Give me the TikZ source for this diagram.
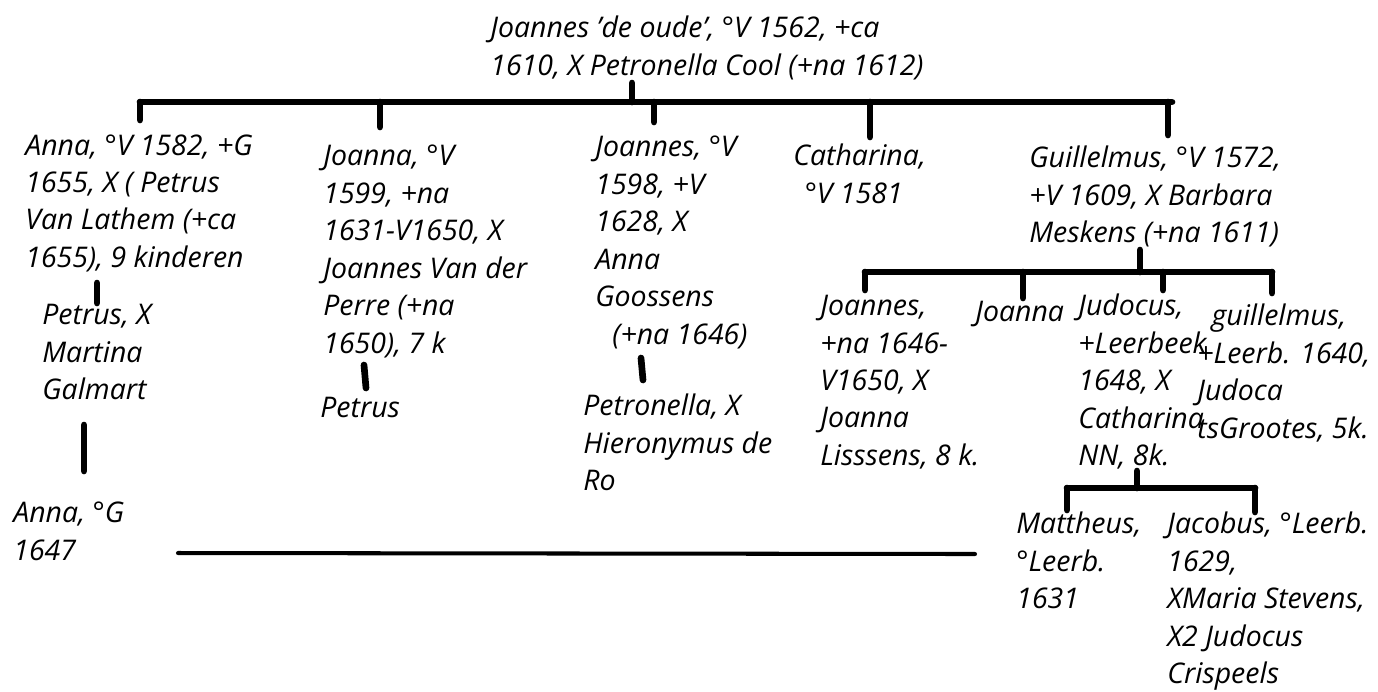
\documentclass[tikz,border=0pt]{standalone}
\usepackage{fontspec}
\setmainfont{Open Sans}
\tikzset{
  person/.style={anchor=north west, inner sep=0pt, align=left,
    font=\fontsize{16.2}{21.3}\selectfont\itshape},
  famline/.style={line width=3.8pt, line cap=round},
  thinline/.style={line width=2.3pt, line cap=round}
}
\begin{document}
\begin{tikzpicture}[x=0.02cm, y=-0.02cm]
\useasboundingbox (0,0) rectangle (1378,691);

% top couple
\node[person] (root) at (490,16) {Joannes 'de oude', °V 1562, +ca\\1610, X Petronella Cool (+na 1612)};

% children
\node[person] (anna) at (25,134) {Anna, °V 1582, +G\\1655, X ( Petrus\\Van Lathem (+ca\\1655), 9 kinderen};
\node[person] (joanna) at (323,145) {Joanna, °V\\1599, +na\\1631-V1650, X\\Joannes Van der\\Perre (+na\\1650), 7 k};
\node[person] (joannes) at (595,136) {Joannes, °V\\1598, +V\\1628, X\\Anna\\Goossens\\\hspace*{0.6em}(+na 1646)};
\node[person] (catharina) at (793,144) {Catharina,\\\hspace*{0.4em}°V 1581};
\node[person] (guillelmus) at (1029,146) {Guillelmus, °V 1572,\\+V 1609, X Barbara\\Meskens (+na 1611)};

% grandchildren
\node[person] (petrusA) at (42,304) {Petrus, X\\Martina\\Galmart};
\node[person] (annaG) at (13,502) {Anna, °G\\1647};
\node[person] (petrusJ) at (320,397) {Petrus};
\node[person] (petronella) at (583,394) {Petronella, X\\Hieronymus de\\Ro};
\node[person] (joannesG) at (820,295) {Joannes,\\+na 1646-\\V1650, X\\Joanna\\Lisssens, 8 k.};
\node[person] (joannaG) at (975,301) {Joanna};
\node[person] (judocus) at (1078,294) {Judocus,\\+Leerbeek\\1648, X\\Catharina\\NN, 8k.};
\node[person] (guillelmusG) at (1197,304) {\hspace*{0.5em}guillelmus,\\+Leerb. 1640,\\Judoca\\tsGrootes, 5k.};
\node[person] (mattheus) at (1016,512) {Mattheus,\\°Leerb.\\1631};
\node[person] (jacobus) at (1167,512) {Jacobus, °Leerb.\\1629,\\XMaria Stevens,\\X2 Judocus\\Crispeels};

% bars and stubs
\coordinate (rootstub) at (632,83);
\coordinate (rootbar) at (632,102);
\coordinate (barL) at (140,102);
\coordinate (barR) at (1172,102);
\draw[famline] (rootstub) -- (rootbar);
\draw[famline] (barL) -- (barR);
\foreach \x/\y in {140/120, 380/127, 654/122, 870/137, 1168/135}
  \draw[famline] (\x,102) -- (\x,\y);

\coordinate (gstub) at (1140,250);
\coordinate (gbar) at (1140,272);
\draw[famline] (gstub) -- (gbar);
\draw[famline] (865,272) -- (1272,272);
\foreach \x/\y in {865/290, 1023/298, 1163/290, 1272/293}
  \draw[famline] (\x,272) -- (\x,\y);

\coordinate (jstub) at (1137,471);
\coordinate (jbar) at (1137,488);
\draw[famline] (jstub) -- (jbar);
\draw[famline] (1067,488) -- (1255,488);
\draw[famline] (1067,488) -- (1067,510);
\draw[famline] (1255,488) -- (1255,512);

\coordinate (a1) at (97,283);
\coordinate (a2) at (97,303);
\draw[famline] (a1) -- (a2);
\coordinate (p1) at (84,425);
\coordinate (p2) at (84,471);
\draw[famline] (p1) -- (p2);
\coordinate (j1) at (364,365);
\coordinate (j2) at (366,388);
\draw[famline] (j1) -- (j2);
\coordinate (n1) at (641,358);
\coordinate (n2) at (643,380);
\draw[famline] (n1) -- (n2);

\coordinate (longL) at (178,553);
\coordinate (longR) at (975,554);
\draw[thinline] (longL) -- (longR);
\end{tikzpicture}
\end{document}
